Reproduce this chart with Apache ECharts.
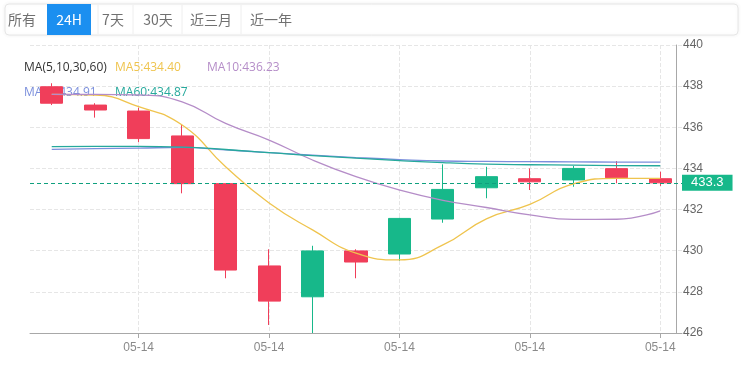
<!DOCTYPE html>
<html>
<head>
<meta charset="utf-8">
<script src="https://cdn.jsdelivr.net/npm/echarts@6/dist/echarts.min.js"></script>
<style>
  html, body { margin: 0; padding: 0; background: #fff; }
  #main { width: 745px; height: 377px; }
</style>
</head>
<body>
<div id="main"></div>
<script>
// K线数据 [open, close, low, high]
var categories = ['05-14', '05-14', '05-14', '05-14', '05-14', '05-14', '05-14', '05-14',
  '05-14', '05-14', '05-14', '05-14', '05-14', '05-14', '05-14'];
var opens  = [437.97, 437.08, 436.79, 435.58, 433.26, 429.26, 427.76, 429.99, 429.84, 431.54, 433.06, 433.50, 433.44, 433.99, 433.50];
var closes = [437.17, 436.84, 435.45, 433.26, 429.06, 427.55, 429.99, 429.45, 431.57, 432.98, 433.60, 433.35, 434.00, 433.55, 433.30];
var lows   = [437.08, 436.47, 435.28, 432.79, 428.66, 426.39, 426.00, 428.66, 429.51, 431.36, 432.55, 432.95, 433.11, 433.28, 433.15];
var highs  = [438.14, 437.17, 436.95, 436.11, 433.26, 430.07, 430.24, 430.07, 431.60, 434.20, 434.08, 434.00, 434.12, 434.36, 433.84];

// 均线
var ma5  = [437.60, 437.57, 437.00, 436.11, 434.08, 432.32, 431.01, 429.88, 429.55, 430.28, 431.55, 432.25, 433.25, 433.52, 433.52];
var ma10 = [437.60, 437.60, 437.57, 437.24, 436.19, 435.38, 434.41, 433.60, 432.95, 432.45, 432.10, 431.74, 431.52, 431.53, 431.94];
var ma30 = [434.93, 434.96, 434.99, 435.02, 434.90, 434.77, 434.65, 434.53, 434.43, 434.36, 434.34, 434.33, 434.32, 434.31, 434.31];
var ma60 = [435.06, 435.07, 435.07, 435.04, 434.92, 434.77, 434.62, 434.50, 434.38, 434.28, 434.21, 434.18, 434.16, 434.14, 434.13];

var tabs = ['所有', '24H', '7天', '30天', '近三月', '近一年'];
var legendTexts = ['MA(5,10,30,60)', 'MA5:434.40', 'MA10:436.23', 'MA30:434.91', 'MA60:434.87'];

var upColor = '#17b88a';
var downColor = '#f03e5a';
var maColors = ['#efc44e', '#b58dc8', '#7b8fdc', '#26a99c'];

var kData = opens.map(function (o, i) {
  return [o, closes[i], lows[i], highs[i]];
});
var lastClose = closes[closes.length - 1];

function labelIdx(i) { return i % 3 === 2; }

// 顶部切换按钮
var tabX = [22, 69, 113, 158, 211, 271];
var graphics = [
  {
    type: 'rect', shape: { x: 5, y: 4, width: 733, height: 31, r: 4 },
    style: { fill: '#fff', stroke: '#e6e6e6', lineWidth: 1, shadowBlur: 4, shadowColor: 'rgba(0,0,0,0.06)' },
    z: 1
  },
  {
    type: 'rect', shape: { x: 47, y: 4, width: 44, height: 31 },
    style: { fill: '#1b8ff0' }, z: 2
  }
];
[98, 133, 182, 241].forEach(function (x) {
  graphics.push({
    type: 'line', shape: { x1: x, y1: 5, x2: x, y2: 34 },
    style: { stroke: '#eeeeee', lineWidth: 1 }, z: 2
  });
});
tabs.forEach(function (t, i) {
  graphics.push({
    type: 'text', x: tabX[i], y: 20,
    style: {
      text: t, fill: i === 1 ? '#fff' : '#707070', fontSize: 14,
      fontFamily: '"Noto Sans CJK SC", sans-serif', align: 'center', verticalAlign: 'middle'
    },
    z: 3
  });
});
// 均线图例
var legendPos = [[24, 68], [115, 68], [207, 68], [24, 93], [115, 93]];
var legendColors = ['#333333', maColors[0], maColors[1], maColors[2], maColors[3]];
legendTexts.forEach(function (t, i) {
  graphics.push({
    type: 'text', x: legendPos[i][0], y: legendPos[i][1],
    style: {
      text: t, fill: legendColors[i], fontSize: 12,
      fontFamily: '"Open Sans", "Noto Sans", sans-serif', verticalAlign: 'middle'
    },
    z: 1
  });
});

function maSeries(name, data, color) {
  return {
    name: name, type: 'line', data: data, smooth: true, symbol: 'none',
    lineStyle: { width: 1.3, color: color }, z: 3, silent: true
  };
}

var myChart = echarts.init(document.getElementById('main'));
myChart.setOption({
  backgroundColor: '#fff',
  animation: false,
  graphic: graphics,
  grid: { left: 30, right: 63, top: 45, bottom: 44 },
  xAxis: {
    type: 'category',
    data: categories,
    boundaryGap: true,
    axisLine: { lineStyle: { color: '#a8a8a8' } },
    axisTick: { show: true, alignWithLabel: true, interval: labelIdx, length: 5, lineStyle: { color: '#a8a8a8' } },
    axisLabel: { interval: labelIdx, color: '#8a8a8a', fontSize: 12, margin: 9 },
    splitLine: { show: true, alignWithLabel: true, interval: labelIdx, lineStyle: { type: 'dashed', color: '#e6e6e6' } }
  },
  yAxis: {
    type: 'value',
    position: 'right',
    offset: -6,
    min: 426,
    max: 440,
    interval: 2,
    scale: true,
    axisLine: { show: true, lineStyle: { color: '#a8a8a8' } },
    axisTick: { show: false },
    axisLabel: { color: '#666', fontSize: 12, margin: 7 },
    splitLine: { show: true, lineStyle: { type: 'dashed', color: '#e6e6e6' } }
  },
  series: [
    {
      name: 'K', type: 'candlestick', data: kData, barWidth: '52%', z: 2,
      itemStyle: { color: upColor, color0: downColor, borderColor: upColor, borderColor0: downColor },
      markLine: {
        symbol: 'none', silent: true,
        data: [{
          yAxis: lastClose,
          lineStyle: { type: [4, 3], color: '#0fa07e', width: 1 },
          itemStyle: { color: '#0fa07e' }
        }],
        lineStyle: { type: [4, 3], color: '#0fa07e', width: 1 },
        label: {
          position: 'end', distance: 0, formatter: function () { return lastClose.toFixed(1); },
          color: '#fff', backgroundColor: upColor, fontSize: 13, padding: [2, 9, 1, 9]
        }
      }
    },
    maSeries('MA5', ma5, maColors[0]),
    maSeries('MA10', ma10, maColors[1]),
    maSeries('MA30', ma30, maColors[2]),
    maSeries('MA60', ma60, maColors[3])
  ]
});
</script>
</body>
</html>
